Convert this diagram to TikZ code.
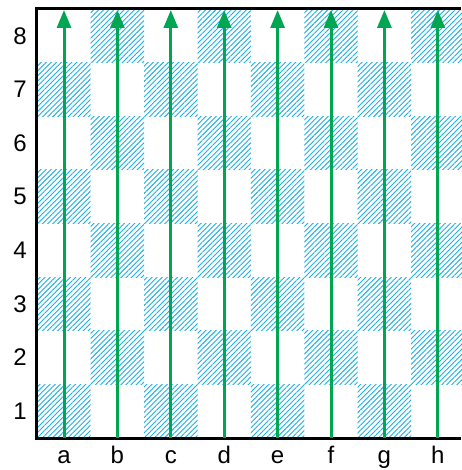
\documentclass[tikz,border=0pt]{standalone}
\usepackage{fontspec}
\setmainfont{Liberation Sans}
\usetikzlibrary{arrows.meta,patterns.meta}
\definecolor{hatchblue}{RGB}{30,174,230}
\definecolor{filegreen}{RGB}{0,166,81}
\tikzset{
  dark/.style={pattern={Lines[angle=45,distance=3.6pt,line width=0.9pt]},pattern color=hatchblue},
  filearrow/.style={draw=filegreen,line width=3pt,-{Triangle[length=18pt,width=14pt]}},
  rank/.style={font=\fontsize{24}{28}\selectfont,inner sep=0pt,anchor=center},
  fileletter/.style={font=\fontsize{24}{28}\selectfont,inner sep=0pt,anchor=base}
}
\begin{document}
\begin{tikzpicture}[x=1pt,y=-1pt]
\path[use as bounding box] (0,0) rectangle (461,470);
\fill[white] (0,0) rectangle (461,470);
% dark squares
\fill[dark] (37.3,384.4) rectangle (90.7,438.0);
\fill[dark] (144.1,384.4) rectangle (197.5,438.0);
\fill[dark] (250.9,384.4) rectangle (304.3,438.0);
\fill[dark] (357.7,384.4) rectangle (411.1,438.0);
\fill[dark] (90.7,330.8) rectangle (144.1,384.4);
\fill[dark] (197.5,330.8) rectangle (250.9,384.4);
\fill[dark] (304.3,330.8) rectangle (357.7,384.4);
\fill[dark] (411.1,330.8) rectangle (464.5,384.4);
\fill[dark] (37.3,277.2) rectangle (90.7,330.8);
\fill[dark] (144.1,277.2) rectangle (197.5,330.8);
\fill[dark] (250.9,277.2) rectangle (304.3,330.8);
\fill[dark] (357.7,277.2) rectangle (411.1,330.8);
\fill[dark] (90.7,223.6) rectangle (144.1,277.2);
\fill[dark] (197.5,223.6) rectangle (250.9,277.2);
\fill[dark] (304.3,223.6) rectangle (357.7,277.2);
\fill[dark] (411.1,223.6) rectangle (464.5,277.2);
\fill[dark] (37.3,170.0) rectangle (90.7,223.6);
\fill[dark] (144.1,170.0) rectangle (197.5,223.6);
\fill[dark] (250.9,170.0) rectangle (304.3,223.6);
\fill[dark] (357.7,170.0) rectangle (411.1,223.6);
\fill[dark] (90.7,116.4) rectangle (144.1,170.0);
\fill[dark] (197.5,116.4) rectangle (250.9,170.0);
\fill[dark] (304.3,116.4) rectangle (357.7,170.0);
\fill[dark] (411.1,116.4) rectangle (464.5,170.0);
\fill[dark] (37.3,62.8) rectangle (90.7,116.4);
\fill[dark] (144.1,62.8) rectangle (197.5,116.4);
\fill[dark] (250.9,62.8) rectangle (304.3,116.4);
\fill[dark] (357.7,62.8) rectangle (411.1,116.4);
\fill[dark] (90.7,9.2) rectangle (144.1,62.8);
\fill[dark] (197.5,9.2) rectangle (250.9,62.8);
\fill[dark] (304.3,9.2) rectangle (357.7,62.8);
\fill[dark] (411.1,9.2) rectangle (464.5,62.8);
% board edges
\draw[line width=3pt] (461,8.5) -- (36,8.5) -- (36,438.5) -- (461,438.5);
% files
\draw[filearrow] (64.0,438) -- (64.0,10);
\draw[filearrow] (117.4,438) -- (117.4,10);
\draw[filearrow] (170.8,438) -- (170.8,10);
\draw[filearrow] (224.2,438) -- (224.2,10);
\draw[filearrow] (277.6,438) -- (277.6,10);
\draw[filearrow] (331.0,438) -- (331.0,10);
\draw[filearrow] (384.4,438) -- (384.4,10);
\draw[filearrow] (437.8,438) -- (437.8,10);
% labels
\node[rank] (r1) at (20,411.2) {1};
\node[rank] (r2) at (20,357.6) {2};
\node[rank] (r3) at (20,304.0) {3};
\node[rank] (r4) at (20,250.4) {4};
\node[rank] (r5) at (20,196.8) {5};
\node[rank] (r6) at (20,143.2) {6};
\node[rank] (r7) at (20,89.6) {7};
\node[rank] (r8) at (20,36.0) {8};
\node[fileletter] (fa) at (64.0,463) {a};
\node[fileletter] (fb) at (117.4,463) {b};
\node[fileletter] (fc) at (170.8,463) {c};
\node[fileletter] (fd) at (224.2,463) {d};
\node[fileletter] (fe) at (277.6,463) {e};
\node[fileletter] (ff) at (331.0,463) {f};
\node[fileletter] (fg) at (384.4,463) {g};
\node[fileletter] (fh) at (437.8,463) {h};
\end{tikzpicture}
\end{document}
